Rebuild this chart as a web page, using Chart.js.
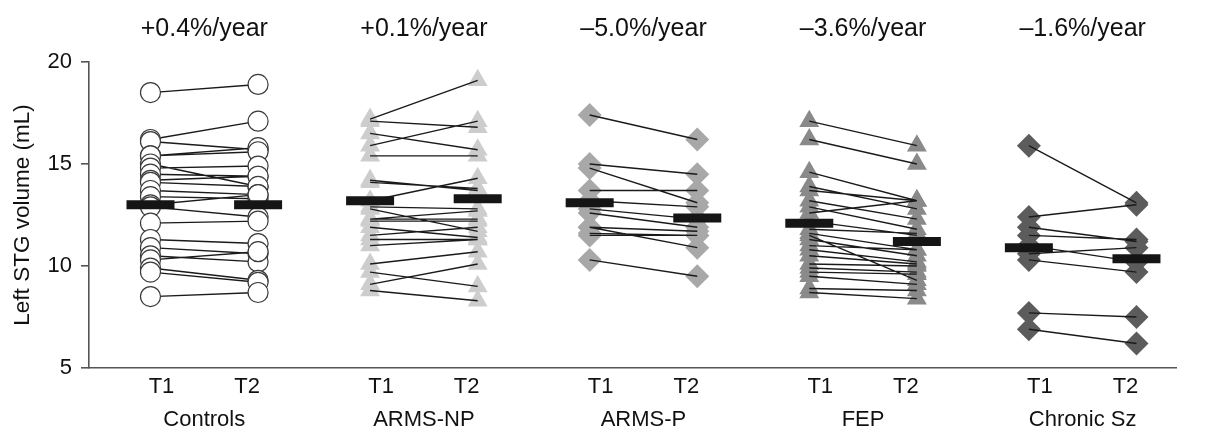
<!DOCTYPE html>
<html>
<head>
<meta charset="utf-8">
<script src="https://cdn.jsdelivr.net/npm/chart.js@4.4.1/dist/chart.umd.min.js"></script>
<style>
  html, body { margin: 0; padding: 0; background: #fff; }
  #wrap { width: 1209px; height: 430px; }
</style>
</head>
<body>
<div id="wrap"><canvas id="stgChart" width="1209" height="430"></canvas></div>
<script>
const groups = ['Controls', 'ARMS-NP', 'ARMS-P', 'FEP', 'Chronic Sz'];
const rates = ['+0.4%/year', '+0.1%/year', '\u20135.0%/year', '\u20133.6%/year', '\u20131.6%/year'];
const timeLabels = ['T1', 'T2'];
const yTicks = [5, 10, 15, 20];

// left STG volume (mL), one entry per subject, T1 and T2 paired by index
const controlsT1 = [18.5, 16.2, 16.1, 15.4, 15.4, 15.0, 14.8, 14.5, 14.2, 14.1, 13.7, 13.4, 13.0, 12.9, 12.1, 11.3, 10.9, 10.5, 10.3, 9.9, 9.7, 8.5];
const controlsT2 = [18.9, 17.1, 15.7, 15.8, 15.6, 13.9, 14.9, 14.4, 14.4, 13.9, 13.5, 13.3, 13.5, 12.4, 12.2, 11.1, 10.6, 10.2, 10.7, 9.3, 9.2, 8.7];

const armsNpT1 = [17.2, 17.1, 16.5, 15.9, 15.4, 14.2, 14.1, 13.2, 12.9, 12.8, 12.3, 12.3, 12.2, 11.9, 11.5, 11.3, 11.0, 10.1, 9.7, 9.1, 8.8];
const armsNpT2 = [19.1, 16.8, 15.7, 17.1, 15.4, 13.7, 13.8, 14.3, 12.8, 11.7, 12.7, 12.3, 12.2, 11.4, 11.9, 11.3, 11.3, 10.7, 9.0, 10.1, 8.3];

const armsPT1 = [17.4, 15.0, 14.8, 13.7, 13.2, 12.8, 12.6, 11.9, 11.9, 11.6, 11.5, 10.3];
const armsPT2 = [16.2, 14.5, 13.1, 13.7, 12.9, 12.3, 11.9, 11.7, 10.9, 11.5, 11.5, 9.5];

const fepT1 = [17.1, 16.2, 14.6, 13.9, 13.7, 13.2, 12.9, 12.6, 12.2, 11.8, 11.6, 11.5, 11.3, 11.0, 10.8, 10.5, 10.1, 9.9, 9.7, 9.5, 8.9, 8.7];
const fepT2 = [15.9, 15.0, 13.2, 12.8, 13.2, 12.3, 11.8, 13.2, 11.5, 11.6, 10.8, 9.3, 10.5, 10.8, 10.2, 10.1, 10.0, 9.7, 9.6, 9.1, 8.8, 8.4];

const chronicT1 = [15.9, 12.4, 11.9, 11.5, 11.0, 10.6, 10.3, 7.7, 6.9];
const chronicT2 = [13.1, 13.0, 11.2, 11.3, 10.2, 10.9, 9.7, 7.5, 6.2];

const meanT1 = [13.0, 13.2, 13.1, 12.1, 10.9];
const meanT2 = [13.0, 13.3, 12.35, 11.2, 10.35];

const groupValues = [
    [controlsT1, controlsT2],
    [armsNpT1, armsNpT2],
    [armsPT1, armsPT2],
    [fepT1, fepT2],
    [chronicT1, chronicT2]
];

// marker look per group
const markerStyles = [
    { style: 'circle', radius: 10, fill: '#ffffff', border: '#3a3a3a', width: 1.2 },
    { style: 'triangle', radius: 11.5, fill: '#cdcdcd', border: '#cdcdcd', width: 0 },
    { style: 'rectRot', radius: 12, fill: '#a8a8a8', border: '#a8a8a8', width: 0 },
    { style: 'triangle', radius: 11.5, fill: '#8a8a8a', border: '#8a8a8a', width: 0 },
    { style: 'rectRot', radius: 12, fill: '#5c5c5c', border: '#5c5c5c', width: 0 }
];

const FONT = '"Liberation Sans", Arial, Helvetica, sans-serif';
const GROUP_GAP = 2;     // x units between group centres
const POINT_OFF = 0.49;  // T1/T2 markers either side of centre
const LABEL_OFF = 0.39;  // T1/T2 tick labels either side of centre

const centreOf = i => i * GROUP_GAP;

const datasets = [];

// mean bars on top
datasets.push({
    label: 'mean',
    order: 0,
    data: groups.flatMap((g, i) => [
        { x: centreOf(i) - POINT_OFF, y: meanT1[i] },
        { x: centreOf(i) + POINT_OFF, y: meanT2[i] }
    ]),
    pointStyle: 'line',
    pointRadius: 24,
    pointBorderWidth: 9,
    pointBorderColor: '#151515',
    pointBackgroundColor: '#151515'
});

groupValues.forEach(([t1, t2], i) => {
    const c = centreOf(i);
    const m = markerStyles[i];
    const pts = [];
    const linePts = [];
    t1.forEach((v, k) => {
        pts.push({ x: c - POINT_OFF, y: v }, { x: c + POINT_OFF, y: t2[k] });
        linePts.push({ x: c - POINT_OFF, y: v }, { x: c + POINT_OFF, y: t2[k] }, { x: c, y: null });
    });

    // open circles sit above the lines, filled markers below them
    const markerOrder = i === 0 ? 1 : 3;

    datasets.push({
        label: groups[i] + ' lines',
        order: 2,
        data: linePts,
        showLine: true,
        spanGaps: false,
        borderColor: '#1a1a1a',
        borderWidth: 1.4,
        pointRadius: 0
    });

    datasets.push({
        label: groups[i],
        order: markerOrder,
        data: pts,
        pointStyle: m.style,
        pointRadius: m.radius,
        pointBackgroundColor: m.fill,
        pointBorderColor: m.border,
        pointBorderWidth: m.width
    });
});

const xMin = -1.05;
const xMax = 8.85;

const rateTitles = {
    id: 'rateTitles',
    afterDraw(chart) {
        const { ctx, scales: { x } } = chart;
        ctx.save();
        ctx.font = '25px ' + FONT;
        ctx.fillStyle = '#111';
        ctx.textAlign = 'center';
        ctx.textBaseline = 'middle';
        rates.forEach((r, i) => ctx.fillText(r, x.getPixelForValue(centreOf(i)), 29));
        ctx.restore();
    }
};

new Chart(document.getElementById('stgChart').getContext('2d'), {
    type: 'scatter',
    data: { datasets },
    options: {
        responsive: false,
        animation: false,
        events: [],
        layout: { padding: { top: 62, right: 29, bottom: 0, left: 0 } },
        plugins: {
            legend: { display: false },
            tooltip: { enabled: false }
        },
        scales: {
            x: {
                type: 'linear',
                position: 'bottom',
                min: xMin,
                max: xMax,
                grid: { display: false, drawTicks: false },
                border: { display: true, color: '#555', width: 1.6 },
                afterBuildTicks: scale => {
                    scale.ticks = groups.flatMap((g, i) => [
                        { value: centreOf(i) - LABEL_OFF },
                        { value: centreOf(i) + LABEL_OFF }
                    ]);
                },
                afterFit: scale => { scale.height = 31; },
                ticks: {
                    autoSkip: false,
                    maxRotation: 0,
                    padding: 8,
                    color: '#111',
                    font: { family: FONT, size: 22, lineHeight: 1 },
                    callback: (v, idx) => timeLabels[idx % 2]
                }
            },
            x2: {
                type: 'linear',
                position: 'bottom',
                min: xMin,
                max: xMax,
                grid: { display: false, drawTicks: false },
                border: { display: false },
                afterBuildTicks: scale => {
                    scale.ticks = groups.map((g, i) => ({ value: centreOf(i) }));
                },
                afterFit: scale => { scale.height = 31; },
                ticks: {
                    autoSkip: false,
                    maxRotation: 0,
                    padding: 10,
                    color: '#111',
                    font: { family: FONT, size: 22, lineHeight: 1 },
                    callback: (v, idx) => groups[idx]
                }
            },
            y: {
                min: 5,
                max: 20,
                afterBuildTicks: scale => {
                    scale.ticks = yTicks.map(v => ({ value: v }));
                },
                afterFit: scale => { scale.width = 89; },
                grid: {
                    display: true,
                    drawOnChartArea: false,
                    drawTicks: true,
                    tickLength: 8,
                    color: '#555',
                    lineWidth: 1.6
                },
                border: { display: true, color: '#555', width: 1.6 },
                ticks: {
                    padding: 9,
                    color: '#111',
                    font: { family: FONT, size: 22 }
                },
                title: {
                    display: true,
                    text: 'Left STG volume (mL)',
                    color: '#111',
                    padding: { top: 9, bottom: 0 },
                    font: { family: FONT, size: 22.5 }
                }
            }
        }
    },
    plugins: [rateTitles]
});
</script>
</body>
</html>
